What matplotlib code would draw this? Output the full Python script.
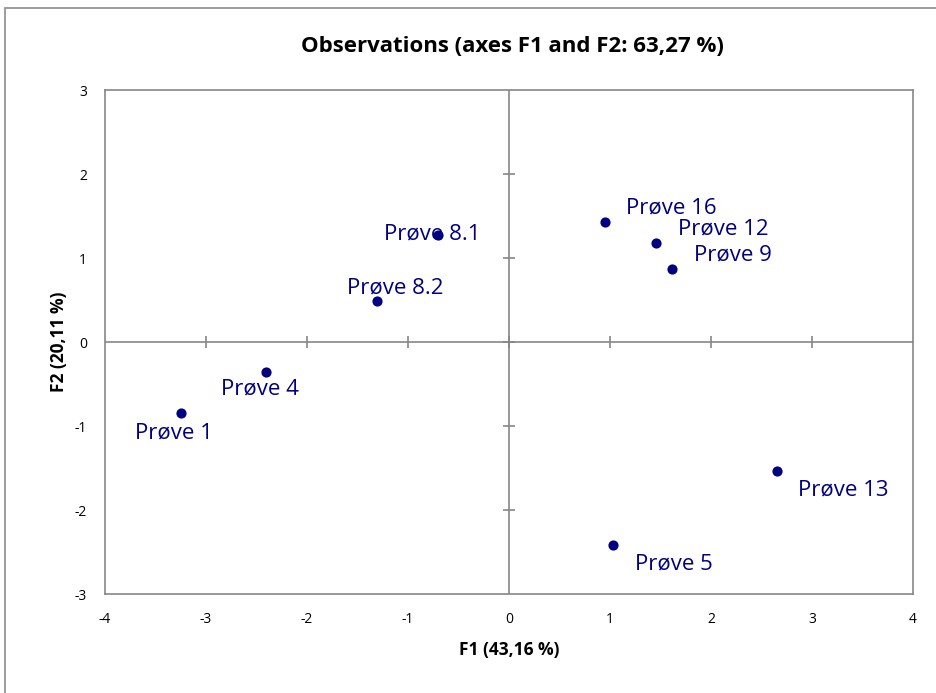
import matplotlib.pyplot as plt
from matplotlib.patches import Rectangle

plt.rcParams['font.family'] = ['Open Sans', 'DejaVu Sans']
plt.rcParams['axes.unicode_minus'] = False

# PCA scores of the samples on the first two factors
samples = ['Prøve 1', 'Prøve 4', 'Prøve 8.2', 'Prøve 8.1', 'Prøve 16',
           'Prøve 12', 'Prøve 9', 'Prøve 13', 'Prøve 5']
f1 = [-3.25, -2.41, -1.31, -0.70, 0.95, 1.455, 1.61, 2.65, 1.03]
f2 = [-0.845, -0.357, 0.488, 1.27, 1.43, 1.18, 0.87, -1.54, -2.42]

x_ticks = [-4, -3, -2, -1, 0, 1, 2, 3, 4]
y_ticks = [-3, -2, -1, 0, 1, 2, 3]

# label offsets in pixels (left edge of text, vertical centre)
label_offsets = [(-46, -20), (-45, -17), (-30, 13), (-54, 1), (21, 14),
                 (22, 14), (22, 14), (21, -19), (22, -19)]

navy = '#000080'
grey = '#868686'

W, H = 936, 693
fig = plt.figure(figsize=(W / 100, H / 100), dpi=100)
ax = fig.add_axes([105 / W, 1 - 594 / H, 808 / W, 504 / H])

# outer chart frame
fig.patches.append(Rectangle((5 / W, -0.05), 1.0, 1 - 8 / H + 0.05,
                             transform=fig.transFigure, fill=False,
                             edgecolor='#8c8c8c', lw=1.2))

ax.set_xlim(x_ticks[0], x_ticks[-1])
ax.set_ylim(y_ticks[0], y_ticks[-1])
ax.set_xticks(x_ticks)
ax.set_yticks(y_ticks)
ax.tick_params(length=0, labelsize=10, pad=13)
for s in ax.spines.values():
    s.set_color(grey)
    s.set_linewidth(1.2)

# zero axes with cross tick marks
ax.axhline(0, color=grey, lw=1.2, zorder=1)
ax.axvline(0, color=grey, lw=1.2, zorder=1)
ax.plot(x_ticks[1:-1], [0] * (len(x_ticks) - 2), ls='none', marker='|',
        ms=9, mew=1.2, color=grey, zorder=1)
ax.plot([0] * (len(y_ticks) - 2), y_ticks[1:-1], ls='none', marker='_',
        ms=9, mew=1.2, color=grey, zorder=1)

ax.scatter(f1, f2, s=40, color=navy, zorder=3)
for name, x, y, (dx, dy) in zip(samples, f1, f2, label_offsets):
    ax.annotate(name, (x, y), xytext=(dx, dy), textcoords='offset pixels',
                ha='left', va='center', fontsize=16, color=navy, zorder=4)

ax.set_xlabel('F1 (43,16 %)', fontsize=12.5, fontweight='bold')
ax.set_ylabel('F2 (20,11 %)', fontsize=12.5, fontweight='bold')
ax.xaxis.set_label_coords(0.5, (594 - 641) / 504)
ax.yaxis.set_label_coords((68 - 105) / 808, 0.5)
fig.text(512 / W, 1 - 46 / H, 'Observations (axes F1 and F2: 63,27 %)',
         ha='center', va='center', fontsize=16, fontweight='bold')

fig.savefig('out.png', dpi=100, facecolor='white')
